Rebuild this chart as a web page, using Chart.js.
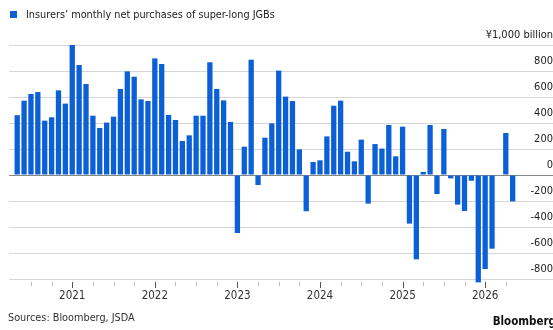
<!DOCTYPE html>
<html>
<head>
<meta charset="utf-8">
<script src="https://cdn.jsdelivr.net/npm/chart.js@4"></script>
<style>
  html, body { margin: 0; padding: 0; background: #fff; }
  #wrap { position: relative; width: 553px; height: 330px; overflow: hidden; font-family: "DejaVu Sans Condensed", "DejaVu Sans", sans-serif; color: #222; }
  #chart { position: absolute; left: 0; top: 0; }
  .legend { position: absolute; left: 10px; top: 7px; font-size: 10.8px; line-height: 16px; white-space: nowrap; }
  .legend i { display: inline-block; width: 7px; height: 7px; background: #0b60d8; margin-right: 9px; vertical-align: 0px; }
  .src { position: absolute; left: 8px; top: 311px; font-size: 10.8px; color: #333; }
  .brand { position: absolute; right: -3px; top: 314px; font-size: 11.5px; font-weight: bold; color: #111; }
</style>
</head>
<body>
<div id="wrap">
  <canvas id="chart" width="553" height="330"></canvas>
  <div class="legend"><i></i>Insurers’ monthly net purchases of super-long JGBs</div>
  <div class="src">Sources: Bloomberg, JSDA</div>
  <div class="brand">Bloomberg</div>
</div>
<script>
// months, May 2020 .. May 2026
const months = [];
for (let y = 2020; y <= 2026; y++) {
    for (let m = 1; m <= 12; m++) {
        if ((y === 2020 && m < 5) || (y === 2026 && m > 5)) continue;
        months.push(y + '-' + String(m).padStart(2, '0'));
    }
}

// net purchases, ¥ billion
const purchases = [
    460, 572, 623, 638, 418, 444, 651, 549,
    1000, 846, 700, 456, 362, 403, 449, 662, 797, 756, 582, 569, 897, 854, 462, 423,
    262, 305, 456, 456, 867, 662, 574, 408, -446, 218, 887, -77, 287, 397, 803, 603,
    569, 197, -279, 100, 113, 297, 533, 572, 179, 105, 272, -220, 238, 203, 385, 144,
    372, -374, -649, 23, 385, -146, 354, -26, -228, -277, -44, -826, -723, -567, 0, 323,
    -203
];

const yTicks = [-800, -600, -400, -200, 0, 200, 400, 600, 800, 1000];

const barColor = '#0b60d8';

// small tick marks under the x axis
const tickMarks = {
    id: 'tickMarks',
    afterDraw(chart) {
        const x = chart.scales.x;
        const ctx = chart.ctx;
        const bottom = chart.chartArea.bottom;
        ctx.save();
        x.ticks.forEach(t => {
            const px = Math.round(x.getPixelForValue(t.value)) + 0.5;
            const isYear = months[t.value].endsWith('-01');
            ctx.strokeStyle = isYear ? '#555' : '#bbb';
            ctx.lineWidth = 1;
            ctx.beginPath();
            ctx.moveTo(px, bottom + 3);
            ctx.lineTo(px, bottom + (isYear ? 9 : 7));
            ctx.stroke();
        });
        ctx.restore();
    }
};

const data = {
    datasets: [{
        label: 'Insurers’ monthly net purchases of super-long JGBs',
        data: purchases.map((v, i) => ({ x: i, y: v })),
        backgroundColor: barColor,
        borderWidth: 0,
        categoryPercentage: 1,
        barPercentage: 0.77,
        clip: false
    }]
};

const config = {
    type: 'bar',
    data: data,
    plugins: [tickMarks],
    options: {
        responsive: false,
        animation: false,
        devicePixelRatio: 1,
        layout: { padding: { top: 45, left: 9, right: 0, bottom: 0 } },
        plugins: {
            legend: { display: false },
            tooltip: { enabled: false }
        },
        scales: {
            x: {
                type: 'linear',
                offset: false,
                min: -1.19,
                max: 77.86,
                grid: { display: false, offset: false },
                border: { display: false },
                afterBuildTicks(scale) {
                    scale.ticks = months
                        .map((m, i) => ({ value: i, m: +m.slice(5) }))
                        .filter(t => (t.m - 1) % 3 === 0)
                        .map(t => ({ value: t.value }));
                },
                afterFit(scale) { scale.height = 51; },
                ticks: {
                    autoSkip: false,
                    maxRotation: 0,
                    padding: 2,
                    color: '#333',
                    font: { family: '"DejaVu Sans Condensed", "DejaVu Sans", sans-serif', size: 11.5 },
                    callback: v => months[v] && months[v].endsWith('-01') ? months[v].slice(0, 4) : ''
                }
            },
            y: {
                position: 'right',
                min: -800,
                max: 1000,
                afterBuildTicks(scale) {
                    scale.ticks = yTicks.map(v => ({ value: v }));
                },
                afterFit(scale) { scale.width = 0; },
                grid: {
                    drawTicks: false,
                    color: ctx => ctx.tick && ctx.tick.value === 0 ? '#888' : '#d6d6d6',
                    lineWidth: 1
                },
                border: { display: false },
                ticks: {
                    mirror: true,
                    padding: 0,
                    labelOffset: -10,
                    color: '#222',
                    font: { family: '"DejaVu Sans Condensed", "DejaVu Sans", sans-serif', size: 11 },
                    callback: v => v === 1000 ? '¥1,000 billion' : String(v)
                }
            }
        }
    }
};

const myChart = new Chart(
    document.querySelector('#chart'),
    config
);
</script>
</body>
</html>
